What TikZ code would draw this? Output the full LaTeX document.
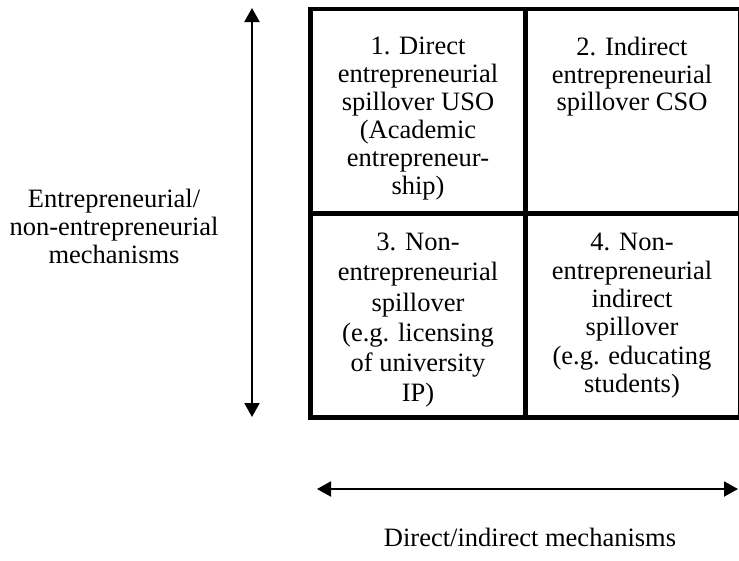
\documentclass[tikz,border=0pt]{standalone}
\usepackage{fontspec}
\setmainfont{Liberation Serif}
\usetikzlibrary{arrows.meta}
\tikzset{
  cell/.style={draw=black, line width=4.5pt, inner sep=0pt, minimum width=#1},
  celltext/.style={align=center, inner sep=0pt, anchor=north, font=\fontsize{26.5}{#1}\selectfont},
  lbl/.style={align=center, inner sep=0pt, font=\fontsize{26.5}{28}\selectfont},
  dbl/.style={line width=2pt, {Triangle[length=14pt,width=15pt]}-{Triangle[length=14pt,width=15pt]}}
}
\begin{document}
\begin{tikzpicture}[x=1pt,y=-1pt]
\useasboundingbox (0,0) rectangle (739,560);
% grid cells
\node[cell=215pt, minimum height=204.5pt] (c1) at (418,111.25) {};
\node[cell=214.5pt, minimum height=204.5pt] (c2) at (632.75,111.25) {};
\node[cell=215pt, minimum height=204pt] (c3) at (418,315.5) {};
\node[cell=214.5pt, minimum height=204pt] (c4) at (632.75,315.5) {};
% cell texts
\node[celltext=28] (t1) at (418,37) {1. Direct\\entrepreneurial\\spillover USO\\(Academic\\entrepreneur-\\ship)};
\node[celltext=27.5] (t2) at (632,37) {2. Indirect\\entrepreneurial\\spillover CSO};
\node[celltext=30.2] (t3) at (418,233) {3. Non-\\entrepreneurial\\spillover\\(e.g. licensing\\of university\\IP)};
\node[celltext=28.4] (t4) at (632,233) {4. Non-\\entrepreneurial\\indirect\\spillover\\(e.g. educating\\students)};
% axis labels
\node[lbl, anchor=north] (ly) at (114,189) {Entrepreneurial/\\non-entrepreneurial\\mechanisms};
\node[lbl, anchor=base] (lx) at (530,546) {Direct/indirect mechanisms};
% arrows
\coordinate (vt) at (252,8);
\coordinate (vb) at (252,417);
\coordinate (hl) at (317,489);
\coordinate (hr) at (738,489);
\draw[dbl] (vt) -- (vb);
\draw[dbl] (hl) -- (hr);
\end{tikzpicture}
\end{document}
